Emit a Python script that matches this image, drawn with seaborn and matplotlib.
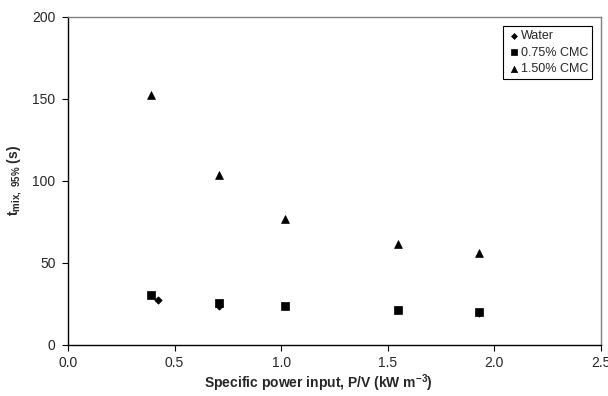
import pandas as pd
import numpy as np
import matplotlib
matplotlib.use('Agg')
import matplotlib.pyplot as plt
import seaborn as sns

# values
water_pv = [0.42, 0.71, 1.93]
water_t = [27.0, 23.5, 19.0]
cmc075_pv = [0.39, 0.71, 1.02, 1.55, 1.93]
cmc075_t = [30.3, 25.5, 23.6, 20.8, 20.0]
cmc150_pv = [0.39, 0.71, 1.02, 1.55, 1.93]
cmc150_t = [152.3, 103.5, 76.5, 61.4, 56.0]
series_names = ['Water', '0.75% CMC', '1.50% CMC']

df = pd.concat([
    pd.DataFrame({'pv': water_pv, 't': water_t, 'fluid': series_names[0]}),
    pd.DataFrame({'pv': cmc075_pv, 't': cmc075_t, 'fluid': series_names[1]}),
    pd.DataFrame({'pv': cmc150_pv, 't': cmc150_t, 'fluid': series_names[2]}),
], ignore_index=True)

sns.set_style('white')
plt.rcParams['font.family'] = ['Liberation Sans', 'DejaVu Sans']
plt.rcParams['mathtext.fontset'] = 'custom'
plt.rcParams['mathtext.rm'] = 'Liberation Sans'
plt.rcParams['mathtext.bf'] = 'Liberation Sans:bold'

fig = plt.figure(figsize=(6.08, 3.96), dpi=100)
ax = fig.add_axes([0.112, 0.13, 0.876, 0.828])

markers = {'Water': 'D', '0.75% CMC': 's', '1.50% CMC': '^'}
sizes = {'Water': 14, '0.75% CMC': 30, '1.50% CMC': 32}
for name in series_names:
    sub = df[df['fluid'] == name]
    sns.scatterplot(data=sub, x='pv', y='t', marker=markers[name], s=sizes[name],
                    color='black', edgecolor='black', linewidth=0.5, label=name, ax=ax)

ax.set_xlim(0, 2.5)
ax.set_ylim(0, 200)
ax.set_xticks(np.arange(0, 2.51, 0.5))
ax.set_xticklabels(['0.0', '0.5', '1.0', '1.5', '2.0', '2.5'])
ax.set_yticks([0, 50, 100, 150, 200])
ax.tick_params(axis='both', direction='out', length=4, width=0.8, color='black',
               labelsize=10, pad=4, bottom=True, left=True)
ax.tick_params(axis='y', pad=5)

for side in ['left', 'bottom']:
    ax.spines[side].set_color('black')
    ax.spines[side].set_linewidth(1.0)
for side in ['top', 'right']:
    ax.spines[side].set_color('#808080')
    ax.spines[side].set_linewidth(1.0)

ax.set_xlabel('Specific power input, P/V (kW m$\\mathbf{^{-3}}$)', fontsize=10,
              fontweight='bold', labelpad=4)
ax.xaxis.set_label_coords(0.47, -0.085)
ax.set_ylabel('t$_{\\mathbf{mix,\\ 95\\%}}$ (s)', fontsize=10, fontweight='bold', labelpad=6)

leg = ax.legend(loc='upper right', bbox_to_anchor=(0.983, 0.97), fontsize=9,
                frameon=True, fancybox=False, framealpha=1, edgecolor='black',
                borderpad=0.3, labelspacing=0.35, handletextpad=0.0, handlelength=1.1,
                borderaxespad=0, markerscale=0.8)
leg.get_frame().set_linewidth(0.8)

fig.savefig('out.png', dpi=100)
